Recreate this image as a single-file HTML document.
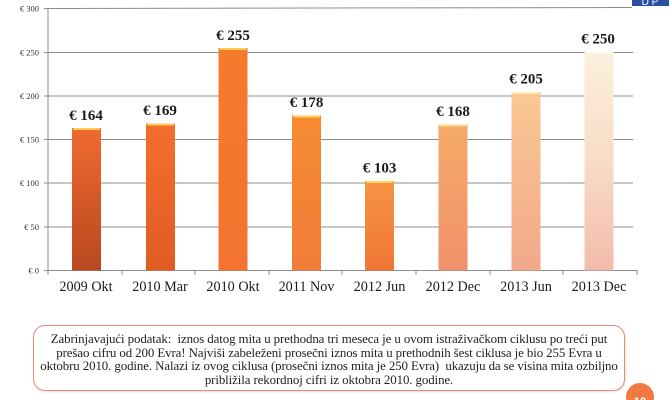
<!DOCTYPE html>
<html><head><meta charset="utf-8">
<style>
html,body{margin:0;padding:0;background:#fff;}
body{width:670px;height:400px;overflow:hidden;position:relative;font-family:"Liberation Serif",serif;}
svg{position:absolute;left:0;top:0;}
.box{position:absolute;left:33px;top:325px;width:592px;height:66px;border:1.3px solid #e98a72;border-radius:12px;box-sizing:border-box;
 font-family:"Liberation Serif",serif;font-size:12.9px;line-height:13.5px;color:#222;text-align:center;padding-top:7px;letter-spacing:-0.1px;white-space:nowrap;
 box-shadow:1px 1px 2px rgba(0,0,0,0.12);}
</style></head><body>
<svg width="670" height="400" viewBox="0 0 670 400">
<defs>
<linearGradient id="g1" x1="0" y1="0" x2="0" y2="1"><stop offset="0" stop-color="#f06a30"/><stop offset="1" stop-color="#b9481f"/></linearGradient>
<linearGradient id="g2" x1="0" y1="0" x2="0" y2="1"><stop offset="0" stop-color="#f56e2e"/><stop offset="1" stop-color="#e05c22"/></linearGradient>
<linearGradient id="g3" x1="0" y1="0" x2="0" y2="1"><stop offset="0" stop-color="#f57a2c"/><stop offset="1" stop-color="#f27430"/></linearGradient>
<linearGradient id="g4" x1="0" y1="0" x2="0" y2="1"><stop offset="0" stop-color="#f68a30"/><stop offset="1" stop-color="#f27c38"/></linearGradient>
<linearGradient id="g5" x1="0" y1="0" x2="0" y2="1"><stop offset="0" stop-color="#f69442"/><stop offset="1" stop-color="#f07636"/></linearGradient>
<linearGradient id="g6" x1="0" y1="0" x2="0" y2="1"><stop offset="0" stop-color="#f5ab68"/><stop offset="1" stop-color="#f0906a"/></linearGradient>
<linearGradient id="g7" x1="0" y1="0" x2="0" y2="1"><stop offset="0" stop-color="#f9c892"/><stop offset="1" stop-color="#f2a88a"/></linearGradient>
<linearGradient id="g8" x1="0" y1="0" x2="0" y2="1"><stop offset="0" stop-color="#fcf0de"/><stop offset="0.5" stop-color="#f8dcc6"/><stop offset="1" stop-color="#f3bcaa"/></linearGradient>
</defs>
<g stroke="#8c8c8c" stroke-width="1">
<line x1="48" y1="8.5" x2="632" y2="7.5"/>
<line x1="48" y1="52.5" x2="633" y2="52.5"/>
<line x1="48" y1="96" x2="633" y2="96"/>
<line x1="48" y1="139.5" x2="633" y2="139.5"/>
<line x1="48" y1="183" x2="633" y2="183"/>
<line x1="48" y1="227" x2="633" y2="227"/>
</g>
<line x1="48" y1="8" x2="48" y2="271" stroke="#8c8c8c" stroke-width="1"/>
<line x1="48" y1="270.5" x2="637" y2="270.5" stroke="#8c8c8c" stroke-width="1"/>
<g stroke="#8c8c8c" stroke-width="1">
<line x1="44" y1="8.5" x2="48" y2="8.5"/><line x1="44" y1="52.5" x2="48" y2="52.5"/><line x1="44" y1="96" x2="48" y2="96"/>
<line x1="44" y1="139.5" x2="48" y2="139.5"/><line x1="44" y1="183" x2="48" y2="183"/><line x1="44" y1="227" x2="48" y2="227"/><line x1="44" y1="270.5" x2="48" y2="270.5"/>
<line x1="48" y1="270" x2="48" y2="275"/><line x1="122" y1="270" x2="122" y2="275"/><line x1="195" y1="270" x2="195" y2="275"/>
<line x1="269" y1="270" x2="269" y2="275"/><line x1="342" y1="270" x2="342" y2="275"/><line x1="416" y1="270" x2="416" y2="275"/>
<line x1="490" y1="270" x2="490" y2="275"/><line x1="563" y1="270" x2="563" y2="275"/><line x1="637" y1="270" x2="637" y2="275"/>
</g>
<g font-family="Liberation Serif, serif" font-size="8.5" fill="#333" text-anchor="end">
<text x="39" y="11.5">€ 300</text><text x="39" y="55.5">€ 250</text><text x="39" y="99">€ 200</text>
<text x="39" y="142.5">€ 150</text><text x="39" y="186">€ 100</text><text x="39" y="230">€ 50</text><text x="39" y="273.5">€ 0</text>
</g>
<g>
<rect x="72" y="128" width="29" height="142.5" fill="url(#g1)"/>
<rect x="146" y="123.5" width="29" height="147" fill="url(#g2)"/>
<rect x="218.5" y="48" width="29" height="222.5" fill="url(#g3)"/>
<rect x="292" y="115.5" width="29" height="155" fill="url(#g4)"/>
<rect x="365" y="181" width="29" height="89.5" fill="url(#g5)"/>
<rect x="438.5" y="124.5" width="29" height="146" fill="url(#g6)"/>
<rect x="511.5" y="92" width="29" height="178.5" fill="url(#g7)"/>
<rect x="584.5" y="52" width="29" height="218.5" fill="url(#g8)"/>
</g>
<g fill="#ffd860" opacity="0.9">
<rect x="73" y="128" width="27" height="2" rx="1"/>
<rect x="147" y="123.5" width="27" height="2" rx="1"/>
<rect x="219.5" y="48" width="27" height="2" rx="1"/>
<rect x="293" y="115.5" width="27" height="2" rx="1"/>
<rect x="366" y="181" width="27" height="2" rx="1"/>
<rect x="439.5" y="124.5" width="27" height="2" rx="1" fill="#ffe08a"/>
<rect x="512.5" y="92" width="27" height="2" rx="1" fill="#fff0b8"/>
<rect x="585.5" y="52" width="27" height="2" rx="1" fill="#fffbe8"/>
</g>
<g font-family="Liberation Serif, serif" font-size="15" font-weight="bold" fill="#1a1a1a" text-anchor="middle">
<text x="86" y="120">€ 164</text>
<text x="160" y="115">€ 169</text>
<text x="233" y="40">€ 255</text>
<text x="306.5" y="107">€ 178</text>
<text x="379.5" y="172.5">€ 103</text>
<text x="453" y="116">€ 168</text>
<text x="526" y="83.5">€ 205</text>
<text x="598" y="43.5">€ 250</text>
</g>
<g font-family="Liberation Serif, serif" font-size="14.2" fill="#1a1a1a" text-anchor="middle">
<text x="86" y="291">2009 Okt</text>
<text x="160" y="291">2010 Mar</text>
<text x="233" y="291">2010 Okt</text>
<text x="306.5" y="291">2011 Nov</text>
<text x="379.5" y="291">2012 Jun</text>
<text x="453" y="291">2012 Dec</text>
<text x="526" y="291">2013 Jun</text>
<text x="599" y="291">2013 Dec</text>
</g>
<rect x="632" y="-2" width="37" height="8" fill="#2c4fa6"/>
<text x="650" y="5" font-family="Liberation Sans, sans-serif" font-size="10" fill="#fff" text-anchor="middle">D P</text>
<circle cx="640" cy="397" r="14" fill="#f07a42"/>
<text x="640" y="405" font-family="Liberation Sans, sans-serif" font-size="11" font-weight="bold" fill="#fff" text-anchor="middle">10</text>
</svg>
<div class="box">Zabrinjavajući podatak:&nbsp; iznos datog mita u prethodna tri meseca je u ovom istraživačkom ciklusu po treći put<br>prešao cifru od 200 Evra! Najviši zabeleženi prosečni iznos mita u prethodnih šest ciklusa je bio 255 Evra u<br>oktobru 2010. godine. Nalazi iz ovog ciklusa (prosečni iznos mita je 250 Evra)&nbsp; ukazuju da se visina mita ozbiljno<br>približila rekordnoj cifri iz oktobra 2010. godine.</div>
</body></html>
